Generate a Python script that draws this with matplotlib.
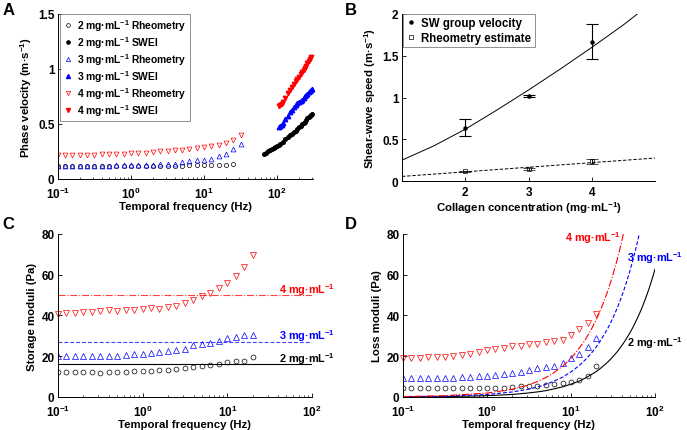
import matplotlib
matplotlib.use('Agg')
import matplotlib.pyplot as plt
from matplotlib.lines import Line2D
from matplotlib.ticker import FuncFormatter, LogLocator

plt.rcParams['font.family'] = ['Liberation Sans', 'DejaVu Sans']
plt.rcParams['font.weight'] = 'bold'
plt.rcParams['axes.labelweight'] = 'bold'
plt.rcParams['mathtext.fontset'] = 'custom'
plt.rcParams['mathtext.rm'] = 'Liberation Sans:bold'
plt.rcParams['mathtext.bf'] = 'Liberation Sans:bold'
plt.rcParams['mathtext.it'] = 'Liberation Sans:bold'
plt.rcParams['mathtext.default'] = 'rm'

# rheometry frequencies (Hz)
f_rheo = [0.1, 0.126, 0.158, 0.2, 0.251, 0.316, 0.398, 0.501, 0.631, 0.794, 1, 1.26, 1.58,
          2, 2.51, 3.16, 3.98, 5.01, 6.31, 7.94, 10, 12.6, 15.8, 20, 25.1, 31.6]

# A: phase velocity from rheometry
v2_rheo = [0.12, 0.12, 0.12, 0.12, 0.12, 0.12, 0.12, 0.12, 0.12, 0.12, 0.12, 0.12, 0.12,
           0.12, 0.12, 0.12, 0.12, 0.12, 0.125, 0.125, 0.125, 0.13, 0.13, 0.13, 0.135]
v3_rheo = [0.12, 0.12, 0.12, 0.12, 0.12, 0.12, 0.12, 0.12, 0.125, 0.125, 0.125, 0.125, 0.13,
           0.13, 0.135, 0.14, 0.14, 0.15, 0.16, 0.17, 0.175, 0.185, 0.21, 0.23, 0.27, 0.315]
v4_rheo = [0.22, 0.22, 0.22, 0.22, 0.22, 0.22, 0.225, 0.225, 0.23, 0.23, 0.235, 0.235, 0.24,
           0.245, 0.25, 0.255, 0.26, 0.265, 0.27, 0.28, 0.29, 0.30, 0.31, 0.33, 0.355, 0.40]

# A: SWEI phase velocity
f2_swei = [67, 70, 75, 80, 85, 90, 95, 100, 105, 110, 120, 130, 140, 150, 160, 170, 180, 190,
           200, 210, 220, 230, 240, 250, 260, 270, 280, 290, 300]
v2_swei = [0.23, 0.24, 0.25, 0.26, 0.27, 0.28, 0.29, 0.30, 0.31, 0.32, 0.34, 0.36, 0.38, 0.40,
           0.41, 0.43, 0.44, 0.455, 0.47, 0.48, 0.50, 0.51, 0.52, 0.535, 0.55, 0.56, 0.57, 0.58, 0.59]
f3_swei = [105, 110, 115, 120, 130, 140, 150, 160, 170, 180, 190, 200, 210, 220, 230, 240,
           250, 260, 270, 280, 290, 300]
v3_swei = [0.47, 0.48, 0.495, 0.51, 0.545, 0.575, 0.605, 0.63, 0.65, 0.67, 0.69, 0.70, 0.71,
           0.72, 0.735, 0.75, 0.76, 0.775, 0.79, 0.80, 0.81, 0.82]
f4_swei = [105, 110, 115, 120, 130, 140, 150, 160, 170, 180, 190, 200, 210, 220, 230, 240,
           250, 260, 270, 280, 290]
v4_swei = [0.66, 0.67, 0.685, 0.70, 0.74, 0.78, 0.81, 0.84, 0.86, 0.89, 0.91, 0.93, 0.95,
           0.97, 0.99, 1.01, 1.03, 1.05, 1.07, 1.09, 1.11]

# B: shear-wave speed vs concentration
conc = [2, 3, 4]
sw_speed = [0.64, 1.02, 1.67]
sw_err = [0.10, 0.015, 0.21]
rh_speed = [0.115, 0.145, 0.235]
rh_err = [0.01, 0.012, 0.03]
fit_sw_x = [1, 1.5, 2, 2.5, 3, 3.5, 4, 4.5, 4.72]
fit_sw_y = [0.25, 0.42, 0.62, 0.85, 1.09, 1.34, 1.60, 1.87, 2.0]
fit_rh_x = [1, 2, 3, 4, 5]
fit_rh_y = [0.055, 0.11, 0.165, 0.22, 0.275]

# C: storage moduli (Pa)
g2_store = [12.4, 12.4, 12.4, 12.4, 12.4, 11.9, 12.4, 12.4, 12.4, 12.6, 12.6, 12.9, 13.1,
            13.4, 13.9, 14.4, 14.9, 15.4, 15.7, 16.4, 17, 17.5, 17.8, 19.5]
g3_store = [20, 20, 20, 20, 20, 20.1, 20, 20.3, 20.8, 21, 21.3, 21.6, 22, 22.5, 23.1, 23.7,
            25.3, 25.9, 26.6, 27.6, 28.9, 29.2, 30.2, 30.3]
g4_store = [40.5, 41, 41, 41.5, 41.5, 42, 42.5, 42, 42.5, 42.5, 43, 43.5, 43, 44, 44.5, 46,
            47.5, 49.5, 51, 53.5, 56, 59.5, 64, 69.5]
g_elastic = [16, 26.8, 50]

# D: loss moduli (Pa)
g2_loss = [4.4, 4.4, 4.4, 4.6, 4.4, 4.4, 4.4, 4.4, 4.4, 4.4, 4.4, 4.4, 4.6, 4.9, 5.2, 5.2,
           5.5, 6, 6.3, 6.8, 7.2, 8.5, 10.1, 15]
g3_loss = [9.3, 9.3, 9.3, 9.3, 9.3, 9.3, 9.3, 9.6, 9.8, 10.1, 10.4, 10.9, 11.4, 12, 12.5,
           13.3, 14, 14.6, 15.3, 16.6, 19, 21.1, 24.4, 28.8]
g4_loss = [19.3, 19.3, 19.3, 19.6, 19.6, 19.6, 19.9, 20.6, 21.2, 22, 22.9, 23.5, 23.8, 25.1,
           24.8, 25.8, 26.1, 27.1, 27.4, 28.1, 30.4, 33.3, 36.4, 40.8]
# viscous model curves
fd = [0.1, 0.3, 1, 2, 3, 4, 5, 6, 8, 10, 12.5, 15, 17.5, 20, 22.5, 25, 27.5, 30, 32.5, 35,
      37.5, 40, 42, 45, 50, 55, 60, 65, 70, 75, 80, 85, 90, 95, 100]
g4_model = [0.2, 0.6, 1.9, 3.8, 5.7, 7.6, 9.5, 11.4, 15.2, 19, 23.8, 28.5, 33.3, 38, 42.8,
            47.5, 52.3, 57, 61.8, 66.5, 71.3, 76, 80]
g3_model = [0.12, 0.37, 1.23, 2.46, 3.7, 4.9, 6.2, 7.4, 9.8, 12.3, 15.4, 18.5, 21.5, 24.6,
            27.7, 30.8, 33.8, 36.9, 40, 43, 46.1, 49.2, 51.7, 55.4, 61.5, 67.7, 73.8, 80]
g2_model = [0.06, 0.19, 0.63, 1.25, 1.9, 2.5, 3.1, 3.8, 5, 6.3, 7.8, 9.4, 11, 12.5, 14.1,
            15.7, 17.2, 18.8, 20.4, 21.9, 23.5, 25.1, 26.3, 28.2, 31.3, 34.4, 37.6, 40.7,
            43.8, 47, 50.1, 53.2, 56.4, 59.5, 62.7]

labels = ['2 mg·mL$^{-1}$', '3 mg·mL$^{-1}$', '4 mg·mL$^{-1}$']
BLUE = '#0000ff'
RED = '#ff0000'
FS = 8.2
TFS = 8.5

fig = plt.figure(figsize=(6.87, 4.31), dpi=100)
axA = fig.add_axes([0.0844, 0.5824, 0.3712, 0.3828])
axB = fig.add_axes([0.5852, 0.5777, 0.3683, 0.3875])
axC = fig.add_axes([0.0844, 0.0766, 0.3697, 0.3782])
axD = fig.add_axes([0.5866, 0.0766, 0.3668, 0.3782])


def style(ax):
    for s in ['top', 'right']:
        ax.spines[s].set_visible(False)
    for s in ['left', 'bottom']:
        ax.spines[s].set_linewidth(0.7)
    ax.tick_params(direction='in', labelsize=TFS, width=0.6, length=3, pad=2.5)
    ax.tick_params(axis='x', pad=5)
    ax.tick_params(which='minor', direction='in', width=0.5, length=1.8)


def logx(ax, hi):
    ax.set_xscale('log')
    ax.set_xlim(0.1, hi)
    ax.xaxis.set_major_locator(LogLocator(base=10, numticks=10))
    ax.xaxis.set_minor_locator(LogLocator(base=10, subs=range(2, 10), numticks=20))


gfmt = FuncFormatter(lambda v, p: '%g' % v)

# ---- A ----
axA.plot(f_rheo[:25], v2_rheo, 'o', mfc='none', mec='k', ms=3, mew=0.5, label=labels[0] + ' Rheometry')
axA.plot(f2_swei, v2_swei, 'o', color='k', ms=2.6, clip_on=False, label=labels[0] + ' SWEI')
axA.plot(f_rheo, v3_rheo, '^', mfc='none', mec=BLUE, ms=3.5, mew=0.5, label=labels[1] + ' Rheometry')
axA.plot(f3_swei, v3_swei, '^', color=BLUE, ms=3.2, clip_on=False, label=labels[1] + ' SWEI')
axA.plot(f_rheo, v4_rheo, 'v', mfc='none', mec=RED, ms=3.5, mew=0.5, label=labels[2] + ' Rheometry')
axA.plot(f4_swei, v4_swei, 'v', color=RED, ms=3.2, clip_on=False, label=labels[2] + ' SWEI')
logx(axA, 310)
axA.set_ylim(0, 1.5)
axA.set_yticks([0, 0.5, 1, 1.5])
axA.yaxis.set_major_formatter(gfmt)
axA.set_xlabel('Temporal frequency (Hz)', fontsize=FS, labelpad=0)
axA.set_ylabel('Phase velocity (m·s$^{-1}$)', fontsize=FS, labelpad=3)
style(axA)
leg = axA.legend(loc='upper left', bbox_to_anchor=(0.008, 1.0), fontsize=7.4, frameon=True,
                 fancybox=False, edgecolor='0.45', handlelength=1.0, handletextpad=0.4,
                 borderpad=0.3, labelspacing=0.12, borderaxespad=0, markerscale=0.9)
leg.get_frame().set_linewidth(0.7)

# ---- B ----
axB.plot(fit_sw_x, fit_sw_y, '-', color='k', lw=0.7)
axB.plot(fit_rh_x, fit_rh_y, '--', color='k', lw=0.7, dashes=(3.5, 1.8))
axB.errorbar(conc, sw_speed, yerr=sw_err, fmt='o', color='k', ms=2.2, capsize=4.5,
             elinewidth=0.8, capthick=0.8)
axB.errorbar(conc, rh_speed, yerr=rh_err, fmt='s', color='k', mfc='none', ms=3, mew=0.5,
             capsize=4.5, elinewidth=0.8, capthick=0.8)
axB.set_xlim(1, 5)
axB.set_ylim(0, 2)
axB.set_xticks([2, 3, 4])
axB.set_yticks([0, 0.5, 1, 1.5, 2])
axB.yaxis.set_major_formatter(gfmt)
axB.set_xlabel('Collagen concentration (mg·mL$^{-1}$)', fontsize=FS, labelpad=1)
axB.set_ylabel('Shear-wave speed (m·s$^{-1}$)', fontsize=FS, labelpad=3)
style(axB)
axB.tick_params(axis='x', pad=3.5)
handles = [Line2D([], [], ls='none', marker='o', color='k', ms=2.2),
           Line2D([], [], ls='none', marker='s', mfc='none', mec='k', mew=0.5, ms=3)]
legB = axB.legend(handles, ['SW group velocity', 'Rheometry estimate'], loc='upper left',
                  bbox_to_anchor=(0.003, 1.0), fontsize=8.3, frameon=True, fancybox=False,
                  edgecolor='0.45', handlelength=0.8, handletextpad=0.5, borderpad=0.3,
                  labelspacing=0.2, borderaxespad=0)
legB.get_frame().set_linewidth(0.7)

# ---- C ----
n = len(g2_store)
axC.plot(f_rheo[:n], g2_store, 'o', mfc='none', mec='k', ms=3.5, mew=0.5)
axC.plot(f_rheo[:n], g3_store, '^', mfc='none', mec=BLUE, ms=4, mew=0.5)
axC.plot(f_rheo[:n], g4_store, 'v', mfc='none', mec=RED, ms=4, mew=0.5, clip_on=False)
axC.axhline(g_elastic[0], color='k', lw=0.8, ls='-')
axC.axhline(g_elastic[1], color=BLUE, lw=0.8, ls='--', dashes=(3.5, 1.8), alpha=0.75)
axC.axhline(g_elastic[2], color=RED, lw=0.8, ls='-.', alpha=0.75)
logx(axC, 100)
axC.set_ylim(0, 80)
axC.set_yticks([0, 20, 40, 60, 80])
ytr = axC.get_yaxis_transform()
axC.text(1.09, 19.1, labels[0], color='k', fontsize=7.8, ha='right', va='center', transform=ytr)
axC.text(1.09, 30.5, labels[1], color=BLUE, fontsize=7.8, ha='right', va='center', transform=ytr)
axC.text(1.09, 53, labels[2], color=RED, fontsize=7.8, ha='right', va='center', transform=ytr)
axC.set_xlabel('Temporal frequency (Hz)', fontsize=FS, labelpad=0)
axC.set_ylabel('Storage moduli (Pa)', fontsize=FS, labelpad=3)
style(axC)

# ---- D ----
axD.plot(f_rheo[:n], g2_loss, 'o', mfc='none', mec='k', ms=3.5, mew=0.5)
axD.plot(f_rheo[:n], g3_loss, '^', mfc='none', mec=BLUE, ms=4, mew=0.5)
axD.plot(f_rheo[:n], g4_loss, 'v', mfc='none', mec=RED, ms=4, mew=0.5, clip_on=False)
axD.plot(fd, g2_model, '-', color='k', lw=0.8)
axD.plot(fd[:len(g3_model)], g3_model, '--', color=BLUE, lw=0.8, dashes=(3.5, 1.8))
axD.plot(fd[:len(g4_model)], g4_model, '-.', color=RED, lw=0.8)
logx(axD, 100)
axD.set_ylim(0, 80)
axD.set_yticks([0, 20, 40, 60, 80])
axD.text(0.865, 0.98, labels[2], color=RED, fontsize=7.8, ha='right', va='center',
         transform=axD.transAxes)
axD.text(1.11, 0.86, labels[1], color=BLUE, fontsize=7.8, ha='right', va='center',
         transform=axD.transAxes)
axD.text(1.11, 0.337, labels[0], color='k', fontsize=7.8, ha='right', va='center',
         transform=axD.transAxes)
axD.set_xlabel('Temporal frequency (Hz)', fontsize=FS, labelpad=0)
axD.set_ylabel('Loss moduli (Pa)', fontsize=FS, labelpad=3)
style(axD)

# panel letters
for lab, x, y in [('A', 0.004, 0.992), ('B', 0.502, 0.992), ('C', 0.003, 0.497), ('D', 0.502, 0.497)]:
    fig.text(x, y, lab, fontsize=12, fontweight='bold', ha='left', va='top')

fig.savefig('out.png', dpi=100)
